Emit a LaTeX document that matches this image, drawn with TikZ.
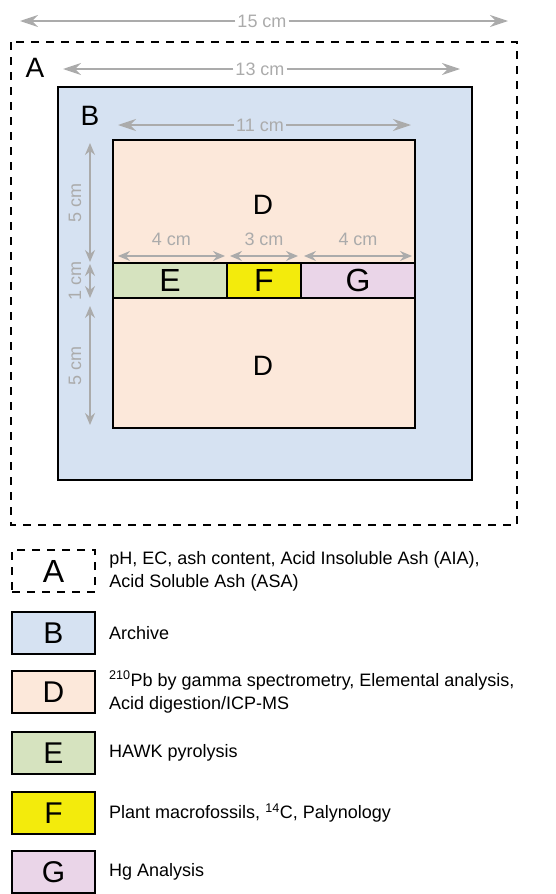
\documentclass[tikz,border=0pt]{standalone}
\usepackage{fontspec}
\setmainfont{Liberation Sans}
\usetikzlibrary{arrows.meta,positioning}
\definecolor{archive}{HTML}{D6E2F2}
\definecolor{peat}{HTML}{FCE8DA}
\definecolor{hawk}{HTML}{D6E3BF}
\definecolor{macro}{HTML}{F3EB0C}
\definecolor{hgcol}{HTML}{EAD5E8}
\definecolor{dimgray}{HTML}{ABABAB}
\begin{document}
\begin{tikzpicture}
  [x=1pt, y=-1pt,
   box/.style={draw=black, line width=2pt},
   dashbox/.style={draw=black, line width=2.5pt, dash pattern=on 8pt off 7pt},
   big/.style={font=\fontsize{28}{28}\selectfont, inner sep=0pt},
   bigger/.style={font=\fontsize{32}{32}\selectfont, inner sep=0pt},
   dimlabel/.style={text=dimgray, font=\fontsize{18}{18}\selectfont, inner sep=2pt},
   dim/.style={draw=dimgray, line width=1.5pt,
     {Stealth[length=12pt,width=10pt,inset=4pt]}-{Stealth[length=12pt,width=10pt,inset=4pt]}},
   dimhalf/.style={draw=dimgray, line width=1.5pt, -{Stealth[length=18pt,width=12pt,inset=6pt]}},
   keybox/.style={box, minimum width=83pt, minimum height=42pt, inner sep=0pt,
     font=\fontsize{30}{30}\selectfont},
   keytext/.style={inner sep=0pt, align=left, font=\fontsize{18}{23}\selectfont}]
  \useasboundingbox (0,0) rectangle (555,894);
  % Setup constants
  \def\stripTop{263}
  \def\stripBot{298}
  \pgfmathsetmacro{\stripMid}{(\stripTop+\stripBot)/2}

  % Nested sample areas
  \draw[dashbox] (11,42) rectangle (517,525);
  \draw[box, fill=archive] (58,87) rectangle (472,480);
  \draw[box, fill=peat] (113,140) rectangle (415,428);
  \draw[box, fill=hawk] (113,\stripTop) rectangle (227,\stripBot);
  \draw[box, fill=macro] (227,\stripTop) rectangle (301,\stripBot);
  \draw[box, fill=hgcol] (301,\stripTop) rectangle (415,\stripBot);

  % Area letters
  \node[big] (labA) at (35,68) {A};
  \node[big] (labB) at (90,116) {B};
  \node[big] (labD1) at (263,205) {D};
  \node[big] (labD2) at (263,366) {D};
  \node[bigger] (labE) at (170,\stripMid) {E};
  \node[bigger] (labF) at (264,\stripMid) {F};
  \node[bigger] (labG) at (358,\stripMid) {G};

  % Widths, label breaking the arrow
  \foreach \name/\txt/\y/\xl/\xm/\xr in {w15/15 cm/21/20/262/508,
      w13/13 cm/69/63/260/460, w11/11 cm/125/118/260/411} {
    \node[dimlabel] (\name) at (\xm,\y) {\txt};
    \coordinate (\name-l) at (\xl,\y);
    \coordinate (\name-r) at (\xr,\y);
    \draw[dimhalf] (\name) -- (\name-l);
    \draw[dimhalf] (\name) -- (\name-r);
  }

  % Widths of the strip parts
  \foreach \name/\txt/\xl/\xr in {sE/4 cm/118/225, sF/3 cm/230/298, sG/4 cm/304/412} {
    \coordinate (\name-l) at (\xl,256);
    \coordinate (\name-r) at (\xr,256);
    \draw[dim] (\name-l) -- (\name-r);
    \node[dimlabel] (\name) at ({(\xl+\xr)/2},239) {\txt};
  }

  % Depths
  \foreach \name/\txt/\yt/\yb in {h1/5 cm/143/262, h2/1 cm/264/298, h3/5 cm/306/425} {
    \coordinate (\name-t) at (90,\yt);
    \coordinate (\name-b) at (90,\yb);
    \draw[dim] (\name-t) -- (\name-b);
    \node[dimlabel, rotate=90] (\name) at (75,{(\yt+\yb)/2}) {\txt};
  }

  % Legend
  \node[keybox, dashbox, font=\fontsize{32}{32}\selectfont] (keyA) at (53.5,571) {A};
  \foreach \lbl/\col/\y in {B/archive/633, D/peat/692, E/hawk/753, F/macro/813, G/hgcol/872} {
    \node[keybox, fill=\col] (key\lbl) at (53.5,\y) {\lbl};
  }
  \node[keytext, right=13pt of keyA] (txtA)
    {pH, EC, ash content, Acid Insoluble Ash (AIA),\\Acid Soluble Ash (ASA)};
  \node[keytext, right=13pt of keyB] (txtB) {Archive};
  \node[keytext, right=13pt of keyD] (txtD)
    {\textsuperscript{210}Pb by gamma spectrometry, Elemental analysis,\\Acid digestion/ICP-MS};
  \node[keytext, right=13pt of keyE] (txtE) {HAWK pyrolysis};
  \node[keytext, right=13pt of keyF] (txtF) {Plant macrofossils, \textsuperscript{14}C, Palynology};
  \node[keytext, right=13pt of keyG] (txtG) {Hg Analysis};
\end{tikzpicture}
\end{document}
